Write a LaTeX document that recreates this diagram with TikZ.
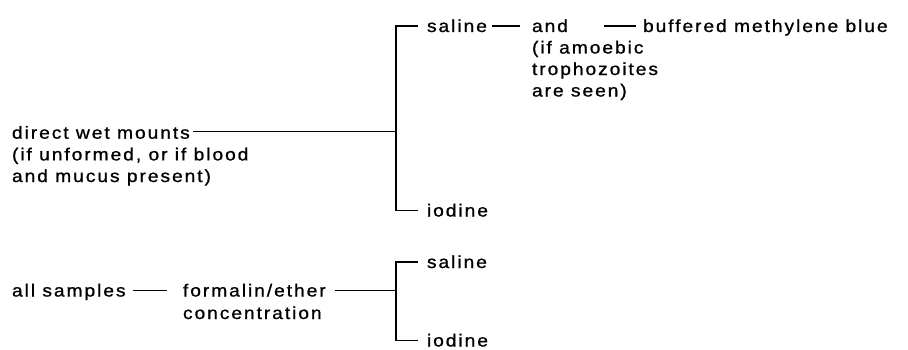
\documentclass[tikz,border=0pt]{standalone}
\usepackage{fontspec}
\setmainfont{Liberation Sans}[FakeStretch=1.1,LetterSpace=11,FakeBold=1.0]
\begin{document}
\begin{tikzpicture}[x=1pt,y=1pt,
  txt/.style={anchor=base west,inner sep=0pt,outer sep=0pt,font=\fontsize{17.5}{21.7}\selectfont},
  conn/.style={line width=1.1pt,black},
  brk/.style={line width=1.3pt,black}]
\useasboundingbox (0,0) rectangle (908,349);
% left column
\node[txt] (dwm)  at (12,210.3) {direct wet mounts};
\node[txt] (dwmb) at (12,188.6) {(if unformed, or if blood};
\node[txt] (dwmc) at (12,167)   {and mucus present)};
\node[txt] (all)  at (12,52.5)  {all samples};
\node[txt] (form) at (183,52.5) {formalin/ether};
\node[txt] (conc) at (183,30)   {concentration};
% upper branch
\node[txt] (sal1) at (427,317)  {saline};
\node[txt] (and1) at (532,317)  {and};
\node[txt] (amo1) at (532,295.5){(if amoebic};
\node[txt] (tro1) at (532,274)  {trophozoites};
\node[txt] (see1) at (532,252.5){are seen)};
\node[txt] (buf1) at (643,317)  {buffered methylene blue};
\node[txt] (iod1) at (427,132.5){iodine};
% lower branch
\node[txt] (sal2) at (427,81)   {saline};
\node[txt] (iod2) at (427,2.5)  {iodine};
% bracket corners
\coordinate (b1t) at (396,323);
\coordinate (b1b) at (396,138.5);
\coordinate (b2t) at (396,87);
\coordinate (b2b) at (396,8.5);
% upper bracket
\draw[brk] ([xshift=-9pt,yshift=6pt]sal1.base west) -- (b1t) -- (b1b) -- ([xshift=-9pt,yshift=6pt]iod1.base west);
\coordinate (dwmr) at ([xshift=3pt,yshift=7pt]dwm.base east);
\draw[conn] (dwmr) -- (dwmr -| b1t);
\draw[conn] ([xshift=5pt,yshift=6pt]sal1.base east) -- ([xshift=-12pt,yshift=6pt]and1.base west);
\draw[conn] ([xshift=36pt,yshift=6pt]and1.base east) -- ([xshift=-7pt,yshift=6pt]buf1.base west);
% lower bracket
\draw[brk] ([xshift=-9pt,yshift=6pt]sal2.base west) -- (b2t) -- (b2b) -- ([xshift=-9pt,yshift=6pt]iod2.base west);
\draw[conn] ([xshift=7pt,yshift=6pt]all.base east) -- ([xshift=-16pt,yshift=6pt]form.base west);
\coordinate (formr) at ([xshift=9pt,yshift=6pt]form.base east);
\draw[conn] (formr) -- (formr -| b2t);
\end{tikzpicture}
\end{document}
